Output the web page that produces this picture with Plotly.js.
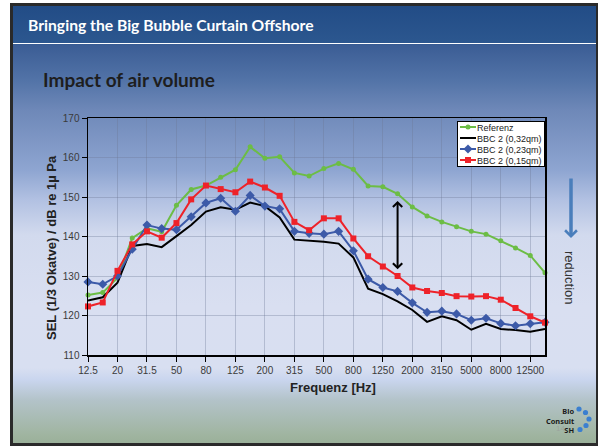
<!DOCTYPE html>
<html>
<head>
<meta charset="utf-8">
<script src="https://cdn.plot.ly/plotly-3.0.1.min.js"></script>
<style>
  html, body { margin: 0; padding: 0; background: #ffffff; }
  #frame { position: absolute; left: 10px; top: 3px; width: 588px; height: 443px; background: #2a2a2a; }
  #slide { position: absolute; left: 13px; top: 6px; width: 583px; height: 437px;
    background: linear-gradient(to bottom, #224c86 0px, #2c578f 37px, #3b5d95 39px, #5273a7 74px, #6e88b8 104px, #8ea5d1 164px, #b2c1e2 194px, #d2daee 229px, #d9dff1 300px, #d8dff1 362px, #c9d5ee 374px, #b3c3c9 394px, #9fb49f 430px, #9ab09a 437px); }
  #rule { position: absolute; left: 13px; top: 43px; width: 583px; height: 1px; background: #ffffff; }
  #chart { position: absolute; left: 0; top: 0; width: 600px; height: 446px; }
</style>
</head>
<body>
<div id="frame"></div>
<div id="slide"></div>
<div id="rule"></div>
<div id="chart"></div>
<script>
// ---- data ----
var frequencies = ['12.5','16','20','25','31.5','40','50','63','80','100','125','160','200','250','315','400','500','630','800','1000','1250','1600','2000','2500','3150','4000','5000','6300','8000','10000','12500','16000'];
var tickLabels = ['12.5','20','31.5','50','80','125','200','315','500','800','1250','2000','3150','5000','8000','12500'];
var referenz = [125.2,125.8,129.5,139.6,142.1,141.2,147.9,151.9,152.9,155.0,156.9,162.7,159.8,160.2,156.1,155.3,157.2,158.5,157.0,152.8,152.6,150.8,147.5,145.2,143.7,142.5,141.3,140.6,138.9,137.1,135.2,130.8];
var bbc032 = [123.8,124.6,128.3,137.6,138.1,137.3,140.1,142.9,146.3,147.4,146.8,148.6,147.7,144.8,139.2,138.9,138.7,138.2,134.7,126.8,125.4,123.6,121.4,118.4,119.8,118.8,116.4,117.9,116.6,116.3,115.9,116.6];
var bbc023 = [128.5,127.9,130.0,136.8,142.9,142.0,141.7,145.0,148.5,149.7,146.4,150.4,147.7,147.0,141.3,140.8,140.6,141.3,136.4,129.2,127.1,126.1,123.2,120.8,121.1,120.4,118.8,119.3,118.0,117.4,117.9,118.3];
var bbc015 = [122.3,123.3,131.3,138.0,141.3,139.7,143.4,149.4,152.9,152.0,151.2,153.9,152.4,150.3,143.7,141.6,144.6,144.6,139.5,135.0,132.4,130.0,127.1,126.2,125.7,124.9,124.8,124.9,124.0,121.9,119.8,118.2];
var seriesNames = ['Referenz','BBC 2 (0,32qm)','BBC 2 (0,23qm)','BBC 2 (0,15qm)'];
var arrowFreq = '1600';

// ---- layout helpers (pixel -> paper) ----
var W = 600, H = 446, L = 88, R = 55, T = 118, B = 91;
var pw = W - L - R, ph = H - T - B;
function px(x) { return (x - L) / pw; }
function py(y) { return (H - B - y) / ph; }

var xs = frequencies.map(function (f, i) { return i; });
var font = 'Liberation Sans, Arial, sans-serif';

function trace(y, name, color, symbol, size) {
  var t = { x: xs, y: y, name: name, type: 'scatter', mode: symbol ? 'lines+markers' : 'lines',
    line: { color: color, width: 2 }, cliponaxis: false };
  if (symbol) t.marker = { symbol: symbol, size: size, color: color };
  return t;
}

var data = [
  trace(referenz, seriesNames[0], '#6cbd45', 'circle', 5),
  trace(bbc032, seriesNames[1], '#000000', null, 0),
  trace(bbc023, seriesNames[2], '#3c5aa8', 'diamond', 7),
  trace(bbc015, seriesNames[3], '#ee2229', 'square', 6)
];

var ai = frequencies.indexOf(arrowFreq);
var tickIdx = tickLabels.map(function (t) { return frequencies.indexOf(t); });

var annotations = [
  { text: 'Bringing the Big Bubble Curtain Offshore', xref: 'paper', yref: 'paper', x: px(26), y: py(25),
    xanchor: 'left', yanchor: 'middle', showarrow: false, font: { family: 'Lato, sans-serif', size: 15.7, color: '#ffffff', weight: 'bold' } },
  { text: 'SEL (1/3 Okatve) / dB re 1µ Pa', xref: 'paper', yref: 'paper', x: px(51), y: py(248), textangle: -90,
    xanchor: 'center', yanchor: 'middle', showarrow: false, font: { family: font, size: 13, color: '#222222', weight: 'bold' } },
  { text: 'Frequenz [Hz]', xref: 'paper', yref: 'paper', x: px(333), y: py(387),
    xanchor: 'center', yanchor: 'middle', showarrow: false, font: { family: font, size: 13, color: '#222222', weight: 'bold' } },
  { text: '', x: ai, y: referenz[ai] - 1.8, ax: ai, ay: bbc015[ai] + 1.3, xref: 'x', yref: 'y', axref: 'x', ayref: 'y',
    showarrow: true, arrowside: 'end+start', arrowhead: 4, arrowsize: 0.9, arrowwidth: 2, arrowcolor: '#000000' },
  { text: '', xref: 'paper', yref: 'paper', x: px(571), y: py(238), ax: 0, ay: -61,
    showarrow: true, arrowhead: 4, arrowsize: 0.65, arrowwidth: 3.5, arrowcolor: '#4a7ebb' },
  { text: 'reduction', xref: 'paper', yref: 'paper', x: px(570), y: py(277), textangle: 90,
    xanchor: 'center', yanchor: 'middle', showarrow: false, font: { family: font, size: 13, color: '#333333' } },
  { text: '14', xref: 'paper', yref: 'paper', x: px(560), y: py(428), xanchor: 'center', yanchor: 'middle',
    showarrow: false, font: { family: font, size: 8, color: 'rgba(150,150,150,0.55)' } },
  { text: 'Bio<br>Consult<br>SH', xref: 'paper', yref: 'paper', x: px(575), y: py(420), xanchor: 'right', yanchor: 'middle',
    align: 'right', showarrow: false, borderpad: 0, font: { family: 'Noto Sans, sans-serif', size: 7.4, color: '#1a1a1a', weight: 'bold' } }
];

var dots = [[579, 409, 2.6], [585.5, 412.5, 2.6], [589, 419, 2.6], [586, 425.5, 2.6], [580, 429.5, 2.6]];
var shapes = dots.map(function (d) {
  return { type: 'circle', xref: 'paper', yref: 'paper', x0: px(d[0] - d[2]), x1: px(d[0] + d[2]),
    y0: py(d[1] + d[2]), y1: py(d[1] - d[2]), fillcolor: '#3b7fd0', line: { width: 0 } };
});

var gridColor = 'rgba(110,120,150,0.35)';
var tickFont = { family: font, size: 10, color: '#3a3a3a' };

var layout = {
  width: W, height: H,
  margin: { l: L, r: R, t: T, b: B, pad: 0 },
  paper_bgcolor: 'rgba(0,0,0,0)', plot_bgcolor: 'rgba(0,0,0,0)',
  title: { text: 'Impact of air volume', xref: 'container', yref: 'container', x: 43 / W, xanchor: 'left',
    y: 1 - 80 / H, yanchor: 'middle', font: { family: 'Lato, sans-serif', size: 19, color: '#1e1e1e', weight: 'bold' } },
  showlegend: true,
  legend: { x: px(544), xanchor: 'right', y: py(121), yanchor: 'top', bgcolor: '#ffffff', bordercolor: '#000000',
    borderwidth: 1, font: { family: font, size: 9, color: '#222222' }, tracegroupgap: 0, itemwidth: 30 },
  xaxis: { type: 'linear', range: [0, frequencies.length - 1], tickvals: tickIdx, ticktext: tickLabels,
    showline: true, linecolor: '#000000', linewidth: 1.5, mirror: true, ticks: 'outside', ticklen: 5,
    tickcolor: '#000000', showgrid: true, gridcolor: gridColor, gridwidth: 1, zeroline: false, tickfont: tickFont },
  xaxis2: { overlaying: 'x', side: 'top', anchor: 'y', type: 'linear', range: [0, frequencies.length - 1],
    tickvals: tickIdx, showticklabels: false, ticks: 'inside', ticklen: 4, tickcolor: '#000000',
    showgrid: false, showline: false, zeroline: false },
  yaxis: { range: [110, 170], dtick: 10, showline: true, linecolor: '#000000', linewidth: 1.5, mirror: true,
    ticks: 'outside', ticklen: 5, tickcolor: '#000000', showgrid: true, gridcolor: gridColor,
    gridwidth: 1, zeroline: false, tickfont: tickFont },
  yaxis2: { overlaying: 'y', side: 'right', anchor: 'x', range: [110, 170], dtick: 10, showticklabels: false,
    ticks: 'inside', ticklen: 4, tickcolor: '#000000', showgrid: false, showline: false, zeroline: false },
  annotations: annotations,
  shapes: shapes
};

var gd = document.getElementById('chart');
Plotly.newPlot(gd, data, layout, { staticPlot: true, displayModeBar: false }).then(function () {
  // compact the legend to match the reference's tight Excel-style legend box
  var leg = gd.querySelector('.infolayer .legend');
  if (!leg) return;
  var boxW = 87, boxH = 45, rowH = 11, top = 6;
  leg.setAttribute('transform', 'translate(' + (L + px(544) * pw - boxW) + ',' + (H - B - py(121) * ph) + ')');
  var bg = leg.querySelector('rect.bg');
  if (bg) { bg.setAttribute('width', boxW); bg.setAttribute('height', boxH); }
  var items = leg.querySelectorAll('g.traces');
  for (var i = 0; i < items.length; i++) {
    var it = items[i];
    it.setAttribute('transform', 'translate(0,' + (top + i * rowH) + ')');
    var txt = it.querySelector('text.legendtext');
    if (txt) txt.setAttribute('x', 20);
    var ln = it.querySelector('.legendlines path');
    if (ln) ln.setAttribute('d', 'M3,0h16');
    var pt = it.querySelector('.legendpoints path');
    if (pt) pt.setAttribute('transform', 'translate(11,0)');
  }
});
</script>
</body>
</html>
